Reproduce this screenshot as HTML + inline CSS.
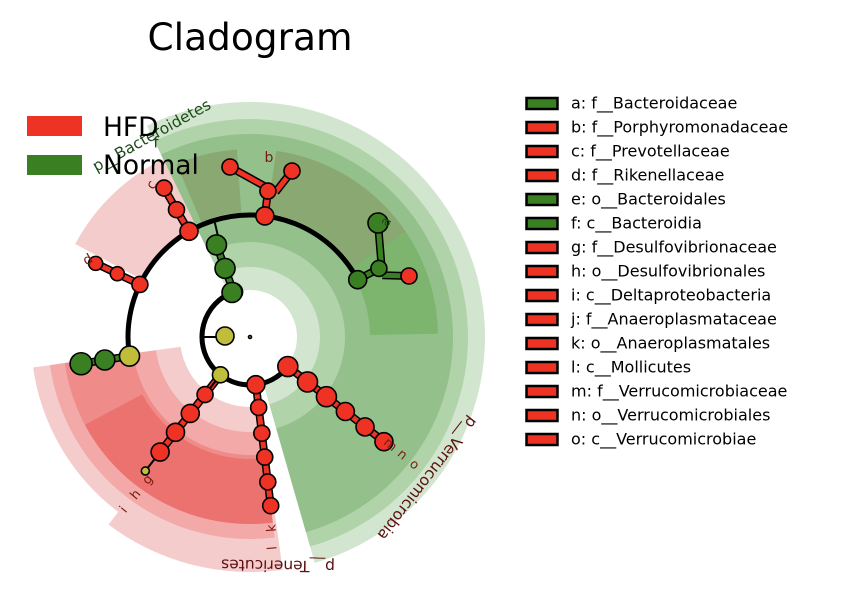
<!DOCTYPE html>
<html><head><meta charset="utf-8"><style>
html,body{margin:0;padding:0;background:#fff;}
svg{display:block;font-family:"DejaVu Sans","Liberation Sans",sans-serif;}
</style></head><body>
<svg id="chart" width="849" height="605" viewBox="0 0 849 605" xmlns="http://www.w3.org/2000/svg">
<text x="250" y="50" font-size="37.5" text-anchor="middle" fill="#000">Cladogram</text>
<g id="sectors"></g>
<g id="edges"></g>
<g id="nodes"></g>
<g id="labels"></g>
<g>
<rect x="27" y="116" width="55" height="20" fill="#ee3224"/>
<text x="103" y="136" font-size="26.5" fill="#000">HFD</text>
<rect x="27" y="155" width="55" height="20" fill="#3a7f22"/>
<text x="103" y="174" font-size="26.5" fill="#000">Normal</text>
</g>
<g id="keylegend"></g>
</svg>
<script>
const taxaLabels=["a: f__Bacteroidaceae","b: f__Porphyromonadaceae","c: f__Prevotellaceae","d: f__Rikenellaceae","e: o__Bacteroidales","f: c__Bacteroidia","g: f__Desulfovibrionaceae","h: o__Desulfovibrionales","i: c__Deltaproteobacteria","j: f__Anaeroplasmataceae","k: o__Anaeroplasmatales","l: c__Mollicutes","m: f__Verrucomicrobiaceae","n: o__Verrucomicrobiales","o: c__Verrucomicrobiae"];
const taxaGroups=["N","H","H","H","N","N","H","H","H","H","H","H","H","H","H"];
const NS="http://www.w3.org/2000/svg";
const cx=250,cy=337;
const RED="#ee3224",GRN="#3a7f22",YEL="#c0bd3a";
function P(r,a){const t=a*Math.PI/180;return [cx+r*Math.cos(t),cy+r*Math.sin(t)];}
function mk(tag,attrs,parent){const e=document.createElementNS(NS,tag);for(const k in attrs)e.setAttribute(k,attrs[k]);parent.appendChild(e);return e;}
function sectorPath(r1,r2,a1,a2){const p1=P(r2,a1),p2=P(r2,a2),p3=P(r1,a2),p4=P(r1,a1);const lg=(a2-a1)>180?1:0;
return `M${p1[0]},${p1[1]}A${r2},${r2} 0 ${lg} 1 ${p2[0]},${p2[1]}L${p3[0]},${p3[1]}A${r1},${r1} 0 ${lg} 0 ${p4[0]},${p4[1]}Z`;}
const shade=[
[47,235,-116,74,"#d2e6cf"],[70,218,-116,74,"#b0d3aa"],[95,203,-116,74,"#93c08b"],
[125,188,-113,-94,"#8aa872"],[125,188,-82,-34,"#8aa872"],[120,188,-34,-1,"#7db56f"],
[122,198,-152,-116,"#f5cccc"],
[70,235,82,127,"#f5cccc"],[70,219,83,172,"#f5cccc"],[95,202,83,172,"#f2a9a8"],[118,187,83,172,"#ef8c8a"],[122,187,83,152,"#ec7270"]
];
const gS=document.getElementById('sectors');
shade.forEach(s=>{const e=mk('path',{d:sectorPath(s[0],s[1],s[2],s[3]),fill:s[4]},gS);

});
const gE=document.getElementById('edges'),gN=document.getElementById('nodes');
function arc(r,a1,a2){const p1=P(r,a1),p2=P(r,a2);const lg=(a2-a1)>180?1:0;
const e=mk('path',{d:`M${p1[0]},${p1[1]}A${r},${r} 0 ${lg} 1 ${p2[0]},${p2[1]}`,fill:"none",stroke:"#000","stroke-width":5},gE);

}
arc(48,38,248);arc(122,171,332);
function seg(p,q,col){const a=mk('line',{x1:p[0],y1:p[1],x2:q[0],y2:q[1],stroke:"#000","stroke-width":col?8:2},gE);


if(col){const b=mk('line',{x1:p[0],y1:p[1],x2:q[0],y2:q[1],stroke:col,"stroke-width":5},gE);

}}
function node(p,r,col){const c=mk('circle',{cx:p[0],cy:p[1],r:r,fill:col,stroke:"#000","stroke-width":1.6},gN);

}
const chains=[
[-110,48,[48,73,98],GRN,[9,10,10]],
[128,48,[73,97,121,146],RED,[8,9,9,9]],
[83,48,[71,97,121,146,170],RED,[8,8,8,8,8]],
[38,48,[73,97,121,146,170],RED,[10,10,9,9,9]],
[171,122,[147,171],GRN,[10,11]],
[-154.5,122,[147,171],RED,[7,7]],
[-120,122,[147,172],RED,[8,8]],
[-83,122,[147],RED,[8]],
[-28,122,[146],GRN,[8]]
];
seg(P(98,-108),P(122,-107),null);
chains.forEach(c=>{let prev=c[1];c[2].forEach(r=>{seg(P(prev,c[0]),P(r,c[0]),c[3]);prev=r;});});
seg(P(146,128),P(170,128),null);
seg(P(147,-80),[230,167],RED);seg(P(147,-80),[292,171],RED);
seg(P(146,-25),[378,223],GRN);seg(P(146,-25),[409,276],GRN);
seg([202,337],[225,337],null);seg(P(48,128),P(73,128),null);
chains.forEach(c=>{c[2].forEach((r,i)=>node(P(r,c[0]),c[4][i],c[3]));});
node(P(48,-112),10,GRN);node(P(48,128),8,YEL);node(P(48,83),9,RED);node(P(48,38),10,RED);
node([225,336],9,YEL);node(P(122,171),10,YEL);
node(P(122,-154.5),8,RED);node(P(122,-120),9,RED);node(P(122,-83),9,RED);node(P(122,-28),9,GRN);
node([230,167],8,RED);node([292,171],8,RED);node([378,223],10,GRN);node([409,276],8,RED);
node(P(170,128),4,YEL);node([250,337],1.5,YEL);
const gL=document.getElementById('labels');
function lab(t,x,y,rot,col,fs){const e=mk('text',{x:x,y:y,transform:`rotate(${rot} ${x} ${y})`,fill:col,"font-size":fs,"text-anchor":"middle","dominant-baseline":"middle"},gL);e.textContent=t;

}
lab("p__Bacteroidetes",152,136,-29,"#1e4a18",15.5);
lab("f",156,143,0,"#1e4a18",15);
lab("p__Verrucomicrobia",427,478,128,"#5a1010",15.5);
lab("p__Tenericutes",278,565,181,"#5a1010",15.5);
lab("b",269,158,0,"#7a1a10",14);lab("c",152,185,-60,"#7a1a10",14);lab("d",88,260,-30,"#7a1a10",14);
lab("a",386,222,-60,"#1e4a18",14);
lab("g",148,480,-50,"#7a1a10",13);lab("h",136,495,-50,"#7a1a10",13);lab("i",124,510,-50,"#7a1a10",13);
lab("k",272,528,-95,"#7a1a10",13);lab("l",273,548,-95,"#7a1a10",13);
lab("m",390,445,40,"#7a1a10",13);lab("n",402,455,40,"#7a1a10",13);lab("o",414,465,40,"#7a1a10",13);
const gK=document.getElementById('keylegend');
taxaLabels.forEach((t,i)=>{const y=103+i*24;
const r=mk('rect',{x:526.5,y:y-5,width:31,height:11,fill:taxaGroups[i]==="N"?GRN:RED,stroke:"#000","stroke-width":2.5},gK);


const tx=mk('text',{x:571,y:y+5.5,"font-size":16,fill:"#000"},gK);tx.textContent=t;

});
</script>
</body></html>
